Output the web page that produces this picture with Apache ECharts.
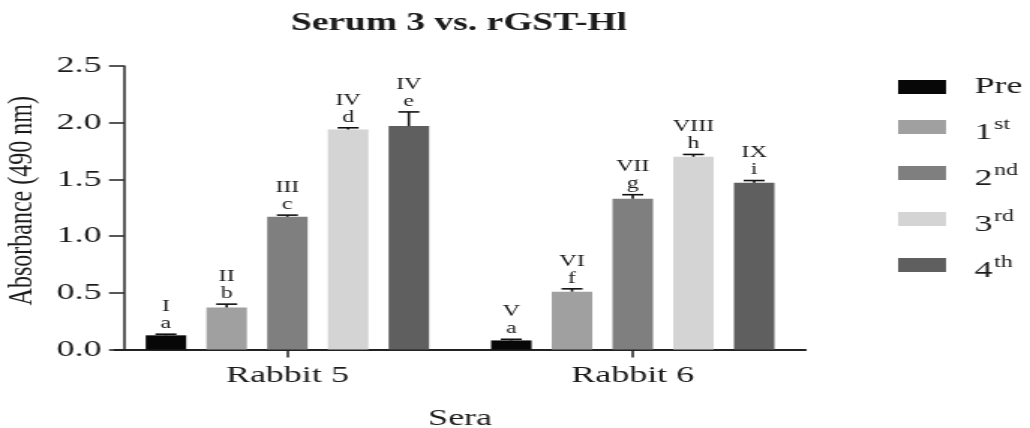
<!DOCTYPE html>
<html>
<head>
<meta charset="utf-8">
<script src="https://cdn.jsdelivr.net/npm/echarts@6/dist/echarts.min.js"></script>
<style>
  html, body { margin: 0; padding: 0; background: #fff; overflow: hidden; }
  /* the figure is laid out on a narrower canvas and widened horizontally */
  #chart { width: 687px; height: 428px; transform: scaleX(1.4993); transform-origin: 0 0; }
</style>
</head>
<body>
<div id="chart"></div>
<script>
// Sera groups on the x axis
const categories = ['Rabbit 5', 'Rabbit 6'];

// Bleed names (legend) and bar fills
const bleedNames = ['Pre', '1st', '2nd', '3rd', '4th'];
const bleedColors = ['#070707', '#a0a0a0', '#7f7f7f', '#d4d4d4', '#5f5f5f'];

// Mean absorbance at 490 nm, one value per serum
const preMeans    = [0.125, 0.08];
const firstMeans  = [0.37, 0.51];
const secondMeans = [1.17, 1.33];
const thirdMeans  = [1.94, 1.70];
const fourthMeans = [1.97, 1.47];

// Upper error (SD) for each bar
const preErrors    = [0.01, 0.01];
const firstErrors  = [0.03, 0.025];
const secondErrors = [0.015, 0.035];
const thirdErrors  = [0.015, 0.02];
const fourthErrors = [0.125, 0.02];

// Group annotations printed above each bar
const preNotes    = [['I', 'a'], ['V', 'a']];
const firstNotes  = [['II', 'b'], ['VI', 'f']];
const secondNotes = [['III', 'c'], ['VII', 'g']];
const thirdNotes  = [['IV', 'd'], ['VIII', 'h']];
const fourthNotes = [['IV', 'e'], ['IX', 'i']];

// Y axis ticks
const yMin = 0, yMax = 2.5, yStep = 0.5;

const means  = [preMeans, firstMeans, secondMeans, thirdMeans, fourthMeans];
const errors = [preErrors, firstErrors, secondErrors, thirdErrors, fourthErrors];
const notes  = [preNotes, firstNotes, secondNotes, thirdNotes, fourthNotes];

const SERIF = '"Liberation Serif", "Times New Roman", serif';
const INK = '#1c1c1c';
const BAR_W = 27;
const BAR_GAP = 0.5;
const CAP_HALF = 7;

const barSeries = bleedNames.map((name, i) => ({
  name,
  type: 'bar',
  data: means[i],
  barWidth: BAR_W,
  barGap: (BAR_GAP * 100) + '%',
  itemStyle: { color: bleedColors[i] },
  emphasis: { disabled: true },
  z: 2
}));

const errorSeries = bleedNames.map((name, i) => ({
  type: 'custom',
  z: 3,
  silent: true,
  data: categories.map((c, k) => [k, means[i][k], errors[i][k], notes[i][k].join('\n')]),
  renderItem(params, api) {
    const k = api.value(0);
    const m = api.value(1);
    const e = api.value(2);
    const base = api.coord([k, m]);
    const top = api.coord([k, m + e]);
    const x = base[0] + (i - (bleedNames.length - 1) / 2) * BAR_W * (1 + BAR_GAP);
    const stroke = { stroke: '#111', lineWidth: 1.6 };
    return {
      type: 'group',
      children: [
        { type: 'line', shape: { x1: x, y1: base[1], x2: x, y2: top[1] }, style: stroke },
        { type: 'line', shape: { x1: x - CAP_HALF, y1: top[1], x2: x + CAP_HALF, y2: top[1] }, style: stroke },
        {
          type: 'text', x: x, y: top[1] - 2,
          style: {
            text: api.value(3),
            align: 'center', verticalAlign: 'bottom',
            fontFamily: SERIF, fontSize: 16, lineHeight: 17, fill: INK
          }
        }
      ]
    };
  }
}));

const chart = echarts.init(document.getElementById('chart'));
chart.setOption({
  animation: false,
  backgroundColor: '#fff',
  title: {
    text: 'Serum 3 vs. rGST-Hl',
    left: 194, top: 11, padding: 0,
    textStyle: { fontFamily: SERIF, fontSize: 25, fontWeight: 'bold', color: INK }
  },
  legend: {
    data: bleedNames,
    orient: 'vertical',
    left: 599, top: 75, padding: 0,
    icon: 'rect',
    itemWidth: 32, itemHeight: 14, itemGap: 10,
    selectedMode: false,
    formatter(name) {
      const m = name.match(/^(\d)(\D+)$/);
      return m ? '{n|' + m[1] + '}{sup|' + m[2] + '}' : '{b|' + name + '}';
    },
    textStyle: {
      color: INK,
      rich: {
        b:   { fontFamily: SERIF, fontSize: 24, lineHeight: 24, color: INK, padding: [0, 0, 0, 14] },
        n:   { fontFamily: SERIF, fontSize: 24, lineHeight: 24, color: INK, padding: [12, 0, 0, 14] },
        sup: { fontFamily: SERIF, fontSize: 16, lineHeight: 16, color: INK, padding: [0, 0, 4, 1] }
      }
    }
  },
  grid: {
    left: 76.5, width: 460.7, top: 66, height: 283.5,
    containLabel: false, outerBoundsMode: 'none'
  },
  xAxis: {
    type: 'category',
    data: categories,
    name: 'Sera',
    nameLocation: 'middle',
    nameGap: 57,
    nameTextStyle: { fontFamily: SERIF, fontSize: 24, color: INK },
    axisLine: { show: true, lineStyle: { color: '#222', width: 2 } },
    axisTick: { show: true, alignWithLabel: true, length: 8, lineStyle: { color: '#222', width: 1.5 } },
    axisLabel: { fontFamily: SERIF, fontSize: 24, color: INK, margin: 14 },
    splitLine: { show: false }
  },
  yAxis: {
    type: 'value',
    min: yMin, max: yMax, interval: yStep,
    offset: -6.2,
    name: 'Absorbance (490 nm)',
    nameLocation: 'middle',
    nameGap: 51,
    nameRotate: 90,
    nameTextStyle: { fontFamily: SERIF, fontSize: 24, color: INK, padding: [0, 0, 0, 14] },
    axisLine: { show: true, lineStyle: { color: '#222', width: 1.5 } },
    axisTick: { show: true, length: 10, lineStyle: { color: '#222', width: 1.5 } },
    axisLabel: {
      fontFamily: SERIF, fontSize: 24, color: INK, margin: 15,
      formatter: v => v.toFixed(1)
    },
    splitLine: { show: false }
  },
  series: barSeries.concat(errorSeries)
});
</script>
</body>
</html>
